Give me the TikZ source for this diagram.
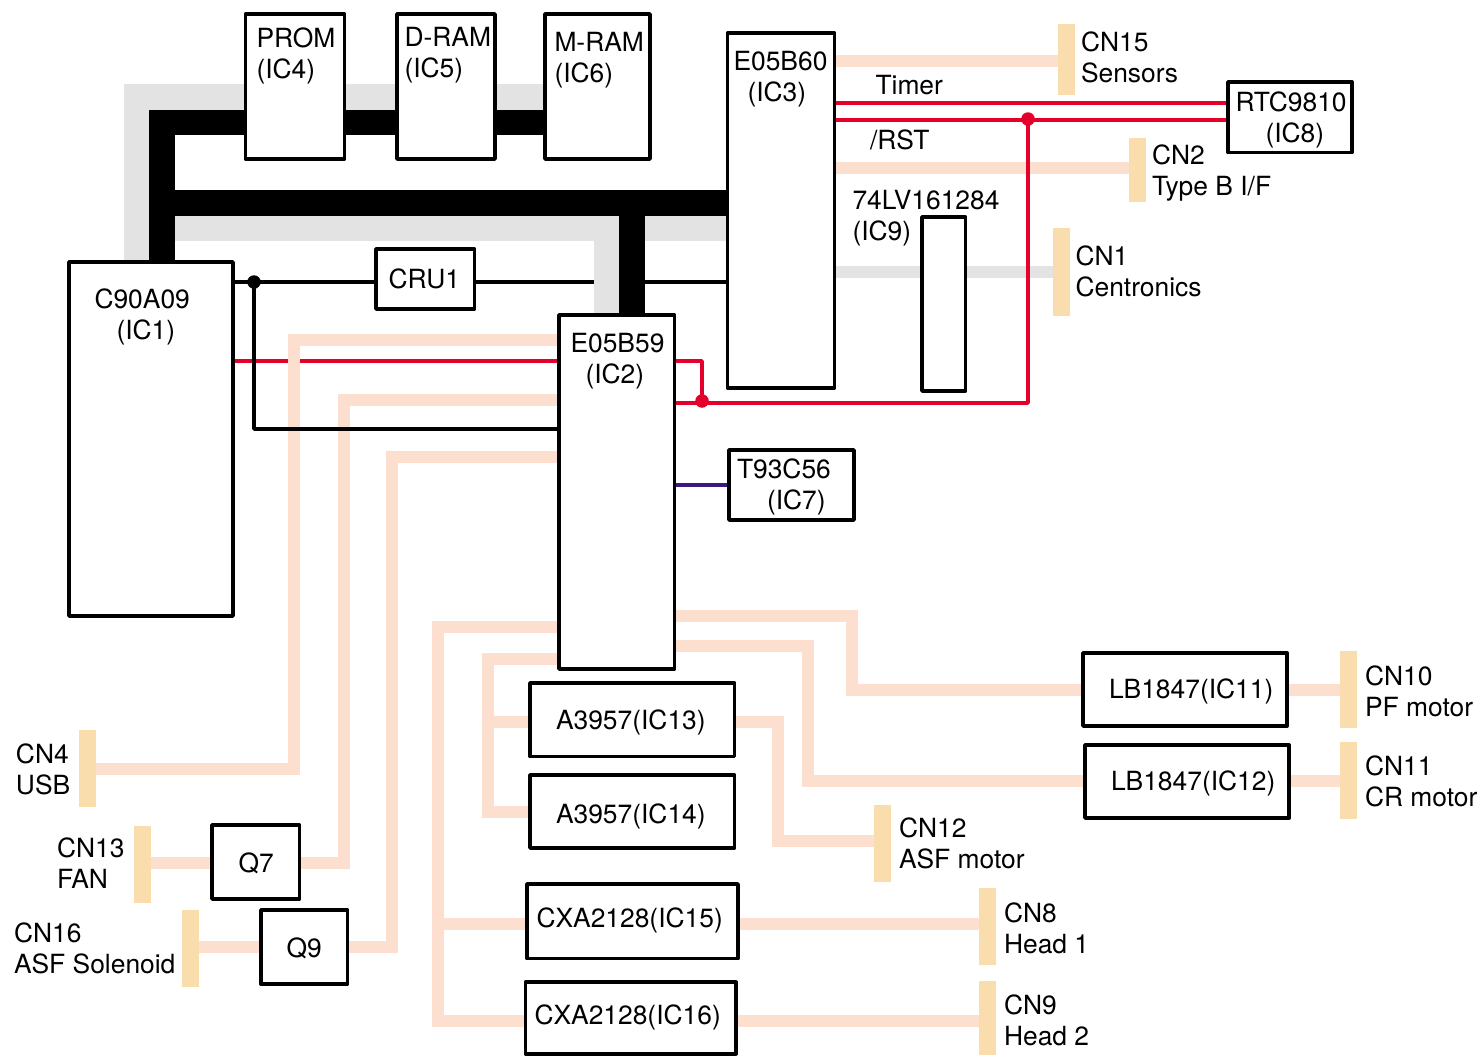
\documentclass[tikz,border=0pt]{standalone}
\usepackage{fontspec}
\setmainfont{TeX Gyre Heros}
\pgfdeclarelayer{lzero}\pgfdeclarelayer{lone}\pgfdeclarelayer{ltwo}\pgfdeclarelayer{lthree}\pgfdeclarelayer{lfour}\pgfdeclarelayer{lfive}\pgfdeclarelayer{lsix}
\pgfsetlayers{lzero,lone,ltwo,lthree,lfour,lfive,lsix,main}
\definecolor{busgray}{HTML}{E3E3E3}
\definecolor{peach}{HTML}{FCDFCF}
\definecolor{cnbar}{HTML}{FADDAD}
\definecolor{sigred}{HTML}{E4002B}
\definecolor{sigpurple}{HTML}{3A1A80}
\tikzset{
  icbox/.style={draw=black,fill=white,line width=3.8pt,line join=round,inner sep=0pt,outer sep=0pt},
  cnbox/.style={fill=cnbar,draw=none,inner sep=0pt,outer sep=0pt,minimum width=17pt},
  lbl/.style={anchor=west,inner sep=0pt,outer sep=0pt,align=left,font=\fontsize{26.4}{31}\selectfont},
  wirebus/.style={line width=25.5pt},
  graybus/.style={draw=busgray,line width=25.5pt},
  softline/.style={draw=peach,line width=12pt},
  grayline/.style={draw=busgray,line width=12pt},
  redline/.style={draw=sigred,line width=3.7pt,line join=round},
  thinline/.style={draw=black,line width=3.4pt,line join=round},
  purpleline/.style={draw=sigpurple,line width=3.7pt},
  reddot/.style={circle,fill=sigred,inner sep=0pt,minimum size=13.5pt},
  blackdot/.style={circle,fill=black,inner sep=0pt,minimum size=13.5pt}
}
\begin{document}
\begin{tikzpicture}[x=1pt,y=-1pt]
\begin{pgfonlayer}{lzero}
\fill[white] (0,0) rectangle (1480,1055);
\end{pgfonlayer}
\useasboundingbox (0,0) rectangle (1480,1055);
% ICs
\node[icbox,minimum width=99pt,minimum height=145pt] (ic4) at (295,86.5) {};
\node[icbox,minimum width=98pt,minimum height=145pt] (ic5) at (446,86.5) {};
\node[icbox,minimum width=105pt,minimum height=145pt] (ic6) at (597.5,86.5) {};
\node[icbox,minimum width=107pt,minimum height=355pt] (ic3) at (781,210.5) {};
\node[icbox,minimum width=164pt,minimum height=354pt] (ic1) at (151,439) {};
\node[icbox,minimum width=98.5pt,minimum height=60pt] (cru1) at (425.25,279) {};
\node[icbox,minimum width=115.5pt,minimum height=354pt] (ic2) at (616.75,492) {};
\node[icbox,minimum width=125pt,minimum height=70pt] (ic7) at (791.5,485) {};
\node[icbox,minimum width=124pt,minimum height=70.5pt] (ic8) at (1290,117.25) {};
\node[icbox,minimum width=43.5pt,minimum height=174pt] (ic9) at (943.75,304) {};
\node[icbox,minimum width=204.5pt,minimum height=73.5pt] (ic13) at (632.25,719.75) {};
\node[icbox,minimum width=204.5pt,minimum height=73pt] (ic14) at (632.25,811.5) {};
\node[icbox,minimum width=211pt,minimum height=74.5pt] (ic15) at (632.5,921.25) {};
\node[icbox,minimum width=210.5pt,minimum height=71.5pt] (ic16) at (630.75,1018) {};
\node[icbox,minimum width=87.5pt,minimum height=74pt] (q7) at (255.75,862) {};
\node[icbox,minimum width=86.5pt,minimum height=74pt] (q9) at (304.25,947) {};
\node[icbox,minimum width=204pt,minimum height=73pt] (ic11) at (1185,689.5) {};
\node[icbox,minimum width=204pt,minimum height=73pt] (ic12) at (1187,781.5) {};
% connectors
\node[cnbox,minimum height=71pt] (cn15) at (1066.75,59.5) {};
\node[cnbox,minimum height=64pt] (cn2) at (1137.5,170) {};
\node[cnbox,minimum height=88pt] (cn1) at (1061,272) {};
\node[cnbox,minimum height=77pt] (cn4) at (87.5,768.5) {};
\node[cnbox,minimum height=77pt] (cn13) at (142.75,864.5) {};
\node[cnbox,minimum height=77pt] (cn16) at (190.5,948.5) {};
\node[cnbox,minimum height=77pt] (cn10) at (1348.5,689.5) {};
\node[cnbox,minimum height=77pt] (cn11) at (1348.5,780.5) {};
\node[cnbox,minimum height=77pt] (cn12) at (882.5,843.5) {};
\node[cnbox,minimum height=77pt] (cn8) at (987.5,926.5) {};
\node[cnbox,minimum height=74pt] (cn9) at (987.5,1018) {};
% dots
\node[blackdot] (dotk) at (254,282) {};
\node[reddot] (dotr) at (1028,119) {};
\node[reddot] (dots) at (702,401) {};
% red passing under the soft lines
\begin{pgfonlayer}{lone}
\draw[redline] (ic1.east |- 0,361) -- (ic2.west |- 0,361);
\end{pgfonlayer}
% soft lines
\begin{pgfonlayer}{ltwo}
\draw[softline] (ic3.east |- 0,61) -- (cn15.west |- 0,61);
\draw[softline] (ic3.east |- 0,168) -- (cn2.west |- 0,168);
\draw[softline] (ic2.west |- 0,340) -- (294,340) -- (294,769) -- (cn4.east |- 0,769);
\draw[softline] (ic2.west |- 0,400) -- (344,400) -- (344,863) -- (q7.east |- 0,863);
\draw[softline] (ic2.west |- 0,457) -- (392,457) -- (392,947) -- (q9.east |- 0,947);
\draw[softline] (q7.west |- 0,863) -- (cn13.east |- 0,863);
\draw[softline] (q9.west |- 0,947) -- (cn16.east |- 0,947);
\draw[softline] (ic2.west |- 0,627) -- (438,627) -- (438,1021) -- (ic16.west |- 0,1021);
\draw[softline] (438,924) -- (ic15.west |- 0,924);
\draw[softline] (ic2.west |- 0,659) -- (488,659) -- (488,812) -- (ic14.west |- 0,812);
\draw[softline] (488,722) -- (ic13.west |- 0,722);
\draw[softline] (ic13.east |- 0,722) -- (778,722) -- (778,841) -- (cn12.west |- 0,841);
\draw[softline] (ic15.east |- 0,924) -- (cn8.west |- 0,924);
\draw[softline] (ic16.east |- 0,1021) -- (cn9.west |- 0,1021);
\draw[softline] (ic2.east |- 0,616) -- (852,616) -- (852,689.5) -- (ic11.west |- 0,689.5);
\draw[softline] (ic2.east |- 0,646) -- (808,646) -- (808,781) -- (ic12.west |- 0,781);
\draw[softline] (ic11.east |- 0,689.5) -- (cn10.west |- 0,689.5);
\draw[softline] (ic12.east |- 0,781) -- (cn11.west |- 0,781);
\end{pgfonlayer}
% thin lines
\begin{pgfonlayer}{lthree}
\draw[thinline] (ic1.east |- 0,282) -- (cru1.west |- 0,282);
\draw[thinline] (cru1.east |- 0,282) -- (ic3.west |- 0,282);
\draw[thinline] (dotk.center) -- (254,429) -- (ic2.west |- 0,429);
\draw[purpleline] (ic2.east |- 0,485) -- (ic7.west |- 0,485);
\end{pgfonlayer}
% gray buses
\begin{pgfonlayer}{lfour}
\draw[graybus] (136.5,262) -- (136.5,97) -- (ic6.west |- 0,97);
\draw[graybus] (174,228.5) -- (606.5,228.5) -- (606.5,315);
\draw[graybus] (632,228.5) -- (ic3.west |- 0,228.5);
\draw[grayline] (ic3.east |- 0,272) -- (cn1.west |- 0,272);
\end{pgfonlayer}
% black buses
\begin{pgfonlayer}{lfive}
\draw[wirebus] (162,262) -- (162,122.5) -- (ic6.west |- 0,122.5);
\draw[wirebus] (162,203) -- (ic3.west |- 0,203);
\draw[wirebus] (632,203) -- (632,315);
\end{pgfonlayer}
% red lines
\begin{pgfonlayer}{lsix}
\draw[redline] (ic3.east |- 0,103) -- (ic8.west |- 0,103);
\draw[redline] (ic3.east |- 0,120) -- (ic8.west |- 0,120);
\draw[redline] (dotr.center) -- (1028,403) -- (ic2.east |- 0,403);
\draw[redline] (ic2.east |- 0,361) -- (702,361) -- (dots.center);
\end{pgfonlayer}
% texts
\node[lbl] (t4) at (256.5,55.5) {PROM\\(IC4)};
\node[lbl] (t5) at (404.5,55.5) {D-RAM\\(IC5)};
\node[lbl] (t6) at (554.5,60.5) {M-RAM\\(IC6)};
\node[lbl] (t3) at (733.5,79.5) {E05B60\\\hspace*{14pt}(IC3)};
\node[lbl] (t1) at (94.5,316.5) {C90A09\\\hspace*{22pt}(IC1)};
\node[lbl] (tcru) at (388.5,279) {CRU1};
\node[lbl] (t2) at (570.5,361.5) {E05B59\\\hspace*{15pt}(IC2)};
\node[lbl] (t7) at (737,486.5) {T93C56\\\hspace*{30pt}(IC7)};
\node[lbl] (t8) at (1235.5,119.5) {RTC9810\\\hspace*{30pt}(IC8)};
\node[lbl] (t9) at (852.5,218.5) {74LV161284\\(IC9)};
\node[lbl] (tcn15) at (1081,57.5) {CN15\\Sensors};
\node[lbl] (ttimer) at (875.5,85) {Timer};
\node[lbl] (trst) at (870,140) {/RST};
\node[lbl] (tcn2) at (1152,173.5) {CN2\\Type B I/F};
\node[lbl] (tcn1) at (1075.5,271.5) {CN1\\Centronics};
\node[lbl] (tcn4) at (16,769.5) {CN4\\USB};
\node[lbl] (tcn13) at (57,863.5) {CN13\\FAN};
\node[lbl] (tcn16) at (14,948.5) {CN16\\ASF Solenoid};
\node[lbl] (t13) at (556,722) {A3957(IC13)};
\node[lbl] (t14) at (556,816) {A3957(IC14)};
\node[lbl] (t15) at (536.5,920) {CXA2128(IC15)};
\node[lbl] (t16) at (534.5,1017.5) {CXA2128(IC16)};
\node[lbl] (tq7) at (238.5,863.5) {Q7};
\node[lbl] (tq9) at (286.5,948.5) {Q9};
\node[lbl] (t11) at (1109,691.5) {LB1847(IC11)};
\node[lbl] (t12) at (1111,783.5) {LB1847(IC12)};
\node[lbl] (tcn10) at (1365,691.5) {CN10\\PF motor};
\node[lbl] (tcn11) at (1365,781.5) {CN11\\CR motor};
\node[lbl] (tcn12) at (899,843.5) {CN12\\ASF motor};
\node[lbl] (tcn8) at (1004,928.5) {CN8\\Head 1};
\node[lbl] (tcn9) at (1004,1020.5) {CN9\\Head 2};
\end{tikzpicture}
\end{document}
